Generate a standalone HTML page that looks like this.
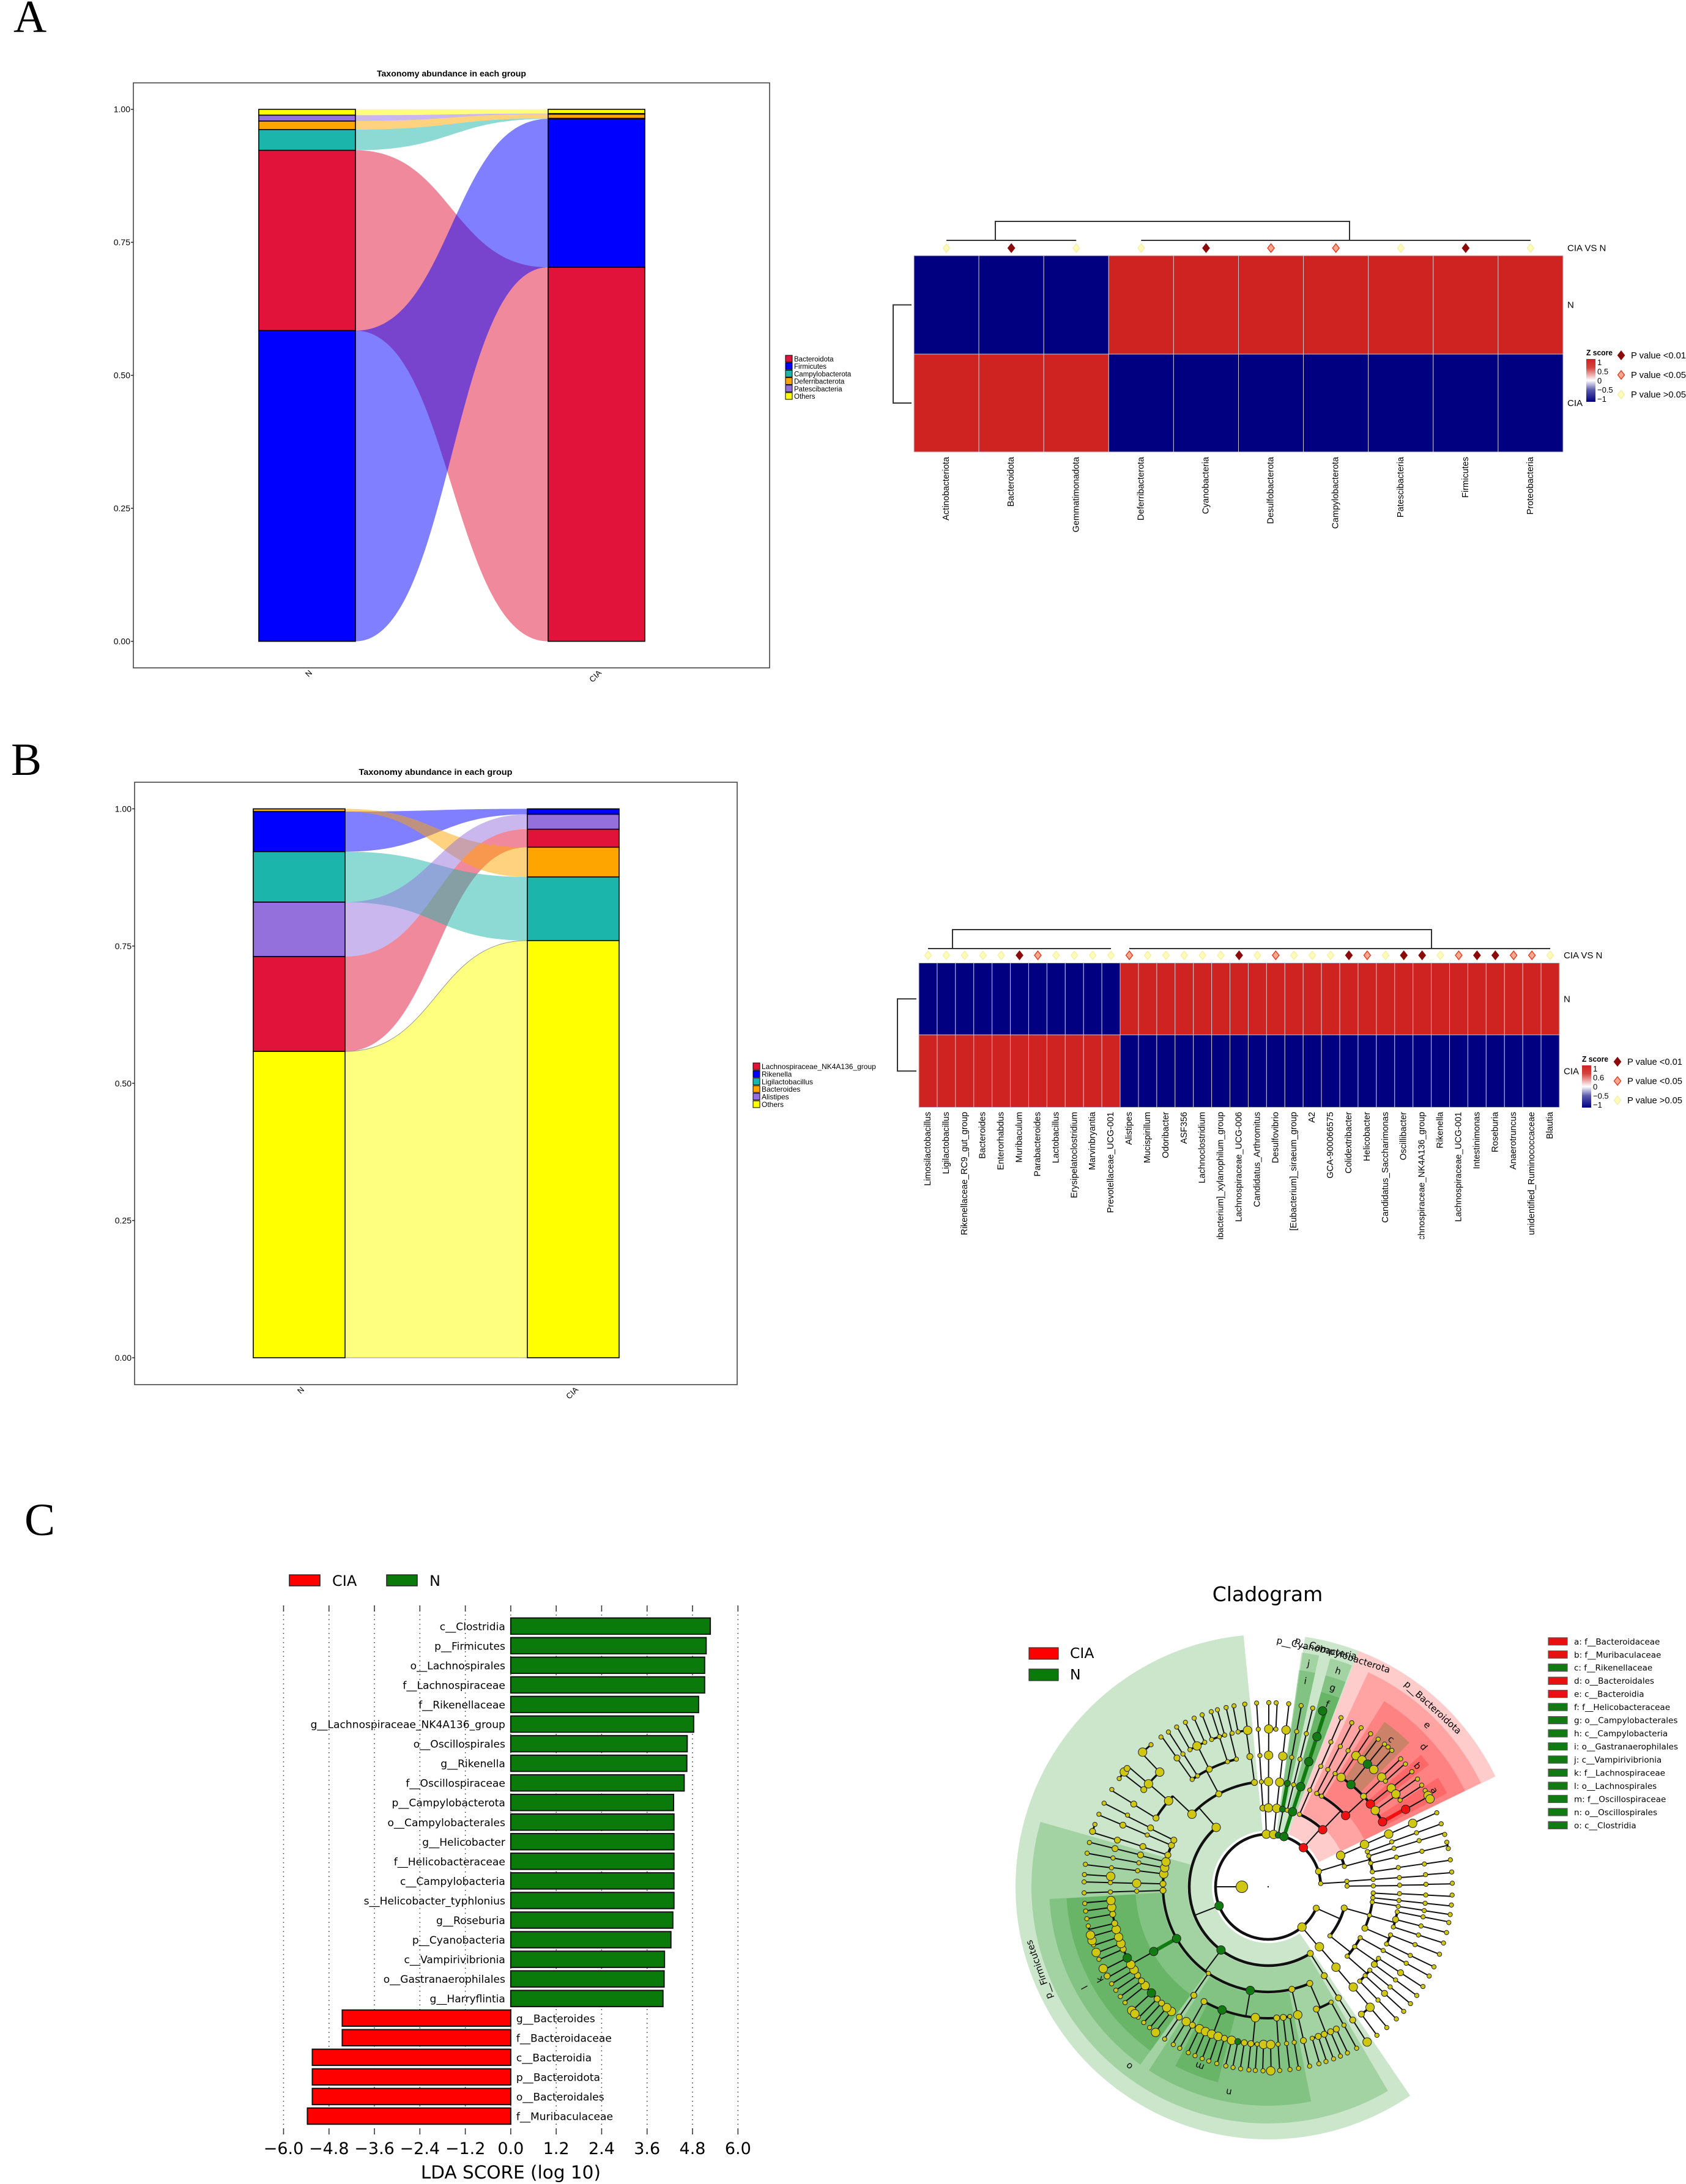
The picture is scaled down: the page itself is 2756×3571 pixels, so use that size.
<!DOCTYPE html>
<html lang="en">
<head>
<meta charset="utf-8">
<title>Microbiome composition figure</title>
<style>
html,body{margin:0;padding:0;background:#fff}
svg{display:block}
text{font-family:"Liberation Sans",sans-serif;fill:#000}
.dv text,text.dv{font-family:"DejaVu Sans",sans-serif}
.serif{font-family:"Liberation Serif",serif}
</style>
</head>
<body>
<svg id="fig" xmlns="http://www.w3.org/2000/svg" width="2756" height="3571" viewBox="0 0 2756 3571">
<rect width="2756" height="3571" fill="#fff"/>
<text class="serif" x="22" y="52" font-size="75">A</text>
<text class="serif" x="18" y="1267" font-size="75">B</text>
<text class="serif" x="40" y="2510" font-size="75">C</text>
<g id="alluvialA"></g>
<g id="heatA"></g>
<g id="alluvialB"></g>
<g id="heatB"></g>
<g id="lda" class="dv"></g>
<g id="clado" class="dv"></g>
</svg>
<script>
/* ---------- chart data ---------- */
const groupNames = ['N', 'CIA'];
const yTickValues = [0, 0.25, 0.5, 0.75, 1];
const yTickLabels = ['0.00', '0.25', '0.50', '0.75', '1.00'];

const phylumTaxa = ['Bacteroidota', 'Firmicutes', 'Campylobacterota', 'Deferribacterota', 'Patescibacteria', 'Others'];
const phylumN = [0.339, 0.584, 0.039, 0.016, 0.011, 0.011];
const phylumCIA = [0.703, 0.279, 0.001, 0.008, 0.001, 0.008];
const phylumStackN = [1, 0, 2, 3, 4, 5];
const phylumStackCIA = [0, 1, 2, 3, 4, 5];

const genusTaxa = ['Lachnospiraceae_NK4A136_group', 'Rikenella', 'Ligilactobacillus', 'Bacteroides', 'Alistipes', 'Others'];
const genusN = [0.173, 0.073, 0.092, 0.005, 0.099, 0.558];
const genusCIA = [0.033, 0.010, 0.116, 0.054, 0.027, 0.760];
const genusStackN = [5, 0, 4, 2, 1, 3];
const genusStackCIA = [5, 2, 3, 0, 4, 1];

const heatAColumns = ['Actinobacteriota', 'Bacteroidota', 'Gemmatimonadota', 'Deferribacterota', 'Cyanobacteria', 'Desulfobacterota', 'Campylobacterota', 'Patescibacteria', 'Firmicutes', 'Proteobacteria'];
const heatARowN = [-1, -1, -1, 1, 1, 1, 1, 1, 1, 1];
const heatARowCIA = [1, 1, 1, -1, -1, -1, -1, -1, -1, -1];
const heatAPClass = [2, 0, 2, 2, 0, 1, 1, 2, 0, 2];

const heatBColumns = ['Limosilactobacillus', 'Ligilactobacillus', 'Rikenellaceae_RC9_gut_group', 'Bacteroides', 'Enterorhabdus', 'Muribaculum', 'Parabacteroides', 'Lactobacillus', 'Erysipelatoclostridium', 'Marvinbryantia', 'Prevotellaceae_UCG-001', 'Alistipes', 'Mucispirillum', 'Odoribacter', 'ASF356', 'Lachnoclostridium', '[Eubacterium]_xylanophilum_group', 'Lachnospiraceae_UCG-006', 'Candidatus_Arthromitus', 'Desulfovibrio', '[Eubacterium]_siraeum_group', 'A2', 'GCA-900066575', 'Colidextribacter', 'Helicobacter', 'Candidatus_Saccharimonas', 'Oscillibacter', 'Lachnospiraceae_NK4A136_group', 'Rikenella', 'Lachnospiraceae_UCG-001', 'Intestinimonas', 'Roseburia', 'Anaerotruncus', 'unidentified_Ruminococcaceae', 'Blautia'];
const heatBRowN = [-1, -1, -1, -1, -1, -1, -1, -1, -1, -1, -1, 1, 1, 1, 1, 1, 1, 1, 1, 1, 1, 1, 1, 1, 1, 1, 1, 1, 1, 1, 1, 1, 1, 1, 1];
const heatBRowCIA = [1, 1, 1, 1, 1, 1, 1, 1, 1, 1, 1, -1, -1, -1, -1, -1, -1, -1, -1, -1, -1, -1, -1, -1, -1, -1, -1, -1, -1, -1, -1, -1, -1, -1, -1];
const heatBPClass = [2, 2, 2, 2, 2, 0, 1, 2, 2, 2, 2, 1, 2, 2, 2, 2, 2, 0, 2, 1, 2, 2, 2, 0, 1, 2, 0, 0, 2, 1, 0, 0, 1, 1, 2];

const pLegendLabels = ['P value <0.01', 'P value <0.05', 'P value >0.05'];

const ldaLabels = ['c__Clostridia', 'p__Firmicutes', 'o__Lachnospirales', 'f__Lachnospiraceae', 'f__Rikenellaceae', 'g__Lachnospiraceae_NK4A136_group', 'o__Oscillospirales', 'g__Rikenella', 'f__Oscillospiraceae', 'p__Campylobacterota', 'o__Campylobacterales', 'g__Helicobacter', 'f__Helicobacteraceae', 'c__Campylobacteria', 's__Helicobacter_typhlonius', 'g__Roseburia', 'p__Cyanobacteria', 'c__Vampirivibrionia', 'o__Gastranaerophilales', 'g__Harryflintia', 'g__Bacteroides', 'f__Bacteroidaceae', 'c__Bacteroidia', 'p__Bacteroidota', 'o__Bacteroidales', 'f__Muribaculaceae'];
const ldaValues = [5.27, 5.16, 5.12, 5.12, 4.96, 4.83, 4.66, 4.65, 4.58, 4.30, 4.31, 4.31, 4.31, 4.31, 4.31, 4.28, 4.23, 4.06, 4.05, 4.02, -4.45, -4.45, -5.24, -5.24, -5.24, -5.37];
const ldaTicks = [-6, -4.8, -3.6, -2.4, -1.2, 0, 1.2, 2.4, 3.6, 4.8, 6];

const cladoLegendEntries = ['a: f__Bacteroidaceae', 'b: f__Muribaculaceae', 'c: f__Rikenellaceae', 'd: o__Bacteroidales', 'e: c__Bacteroidia', 'f: f__Helicobacteraceae', 'g: o__Campylobacterales', 'h: c__Campylobacteria', 'i: o__Gastranaerophilales', 'j: c__Vampirivibrionia', 'k: f__Lachnospiraceae', 'l: o__Lachnospirales', 'm: f__Oscillospiraceae', 'n: o__Oscillospirales', 'o: c__Clostridia'];
const cladoLegendClass = [2, 2, 1, 2, 2, 1, 1, 1, 1, 1, 1, 1, 1, 1, 1];

/* highlighted clades: [label, taxonomic level, start bearing, end bearing, class (1 N, 2 CIA)] */
const cladeBands = [
  ['p__Firmicutes', 1, 145.8, 354.4, 1],
  ['o', 2, 149.6, 285.9, 1],
  ['l', 3, 215.7, 266.8, 1],
  ['k', 4, 215.6, 266.7, 1],
  ['n', 3, 168.7, 213, 1],
  ['m', 4, 194.4, 207.4, 1],
  ['p__Cyanobacteria', 1, 8.4, 14.6, 1],
  ['j', 2, 8.1, 12.4, 1],
  ['i', 3, 8.1, 12.4, 1],
  ['p__Campylobacterota', 1, 14.6, 21, 1],
  ['h', 2, 15.2, 20.7, 1],
  ['g', 3, 15.2, 20.7, 1],
  ['f', 4, 15.2, 20.7, 1],
  ['p__Bacteroidota', 1, 21, 64.1, 2],
  ['e', 2, 25, 64, 2],
  ['d', 3, 32, 64, 2],
  ['c', 4, 35.2, 44.4, 1],
  ['b', 4, 49.2, 52.8, 2],
  ['a', 4, 57.3, 62.4, 2]
];

/* depth-first tree rows: [level, bearing in degrees, abundance class, enrichment class (0 none, 1 N, 2 CIA)] */
const cladeRows = [
  [0,270,4,0],
  [1,114,2,0],
    [2,105.6,2,0],
      [3,93.4,1,0],[4,93,1,0],[5,93,1,0],[6,92.6,1,0],
      [3,96,1,0],[4,96,1,0],[5,96,1,0],[6,95.7,1,0],
      [3,98.4,1,0],[4,98.6,1,0],[5,98.7,1,0],[6,98.7,1,0],
      [3,105.8,1,0],[4,101,1,0],[5,101,1,0],[6,101.2,1,0],[4,104.4,2,0],[5,104.4,1,0],[6,104.4,1,0],[4,107.8,1,0],[5,107.8,1,0],[6,107.8,1,0],
      [3,113.2,2,0],[4,111.5,1,0],[5,111.5,1,0],[6,111.5,1,0],[4,115.8,1,0],[5,115.8,1,0],[6,115.8,1,0],
    [2,128.5,1,0],
      [3,119,1,0],[4,119,1,0],[5,119,1,0],[6,119,1,0],
      [3,124.7,1,0],[4,123,1,0],[5,123,2,0],[6,122.8,1,0],[4,126.2,2,0],[5,126.2,1,0],[6,126.2,1,0],
      [3,131.3,1,0],[4,129.4,1,0],[5,129.4,1,0],[6,129.4,1,0],[4,132.5,1,0],[5,132.5,2,0],[6,132.6,1,0],[4,135.9,1,0],[5,135.9,1,0],[6,135.9,1,0],
  [1,140,3,0],
    [2,139.5,3,0],[3,139.9,3,0],[4,139.7,3,0],[5,139.8,3,0],[6,139.9,1,0],[5,143.8,2,0],[6,143.8,1,0],
  [1,248.8,3,1],
    [2,147.7,2,0],[3,147.8,2,0],[4,147.7,2,0],[5,147.6,2,0],[6,147.5,3,0],
    [2,216.7,3,1],
      [3,156.7,2,0],
        [4,158.5,2,0],
          [5,163.8,1,0],[6,164,1,0],[5,161.5,2,0],[6,161.7,1,0],[5,159.2,2,0],[6,159.2,1,0],[5,156.7,2,0],[6,156.9,1,0],[5,154.4,2,0],[6,154.5,1,0],
        [4,151.4,1,0],[5,151.3,1,0],[6,151.3,1,0],
      [3,167,2,0],[4,167,3,0],[5,167.1,2,0],[6,167,1,0],
      [3,189.8,3,1],
        [4,170.5,1,0],[5,170.5,1,0],[6,170.5,1,0],
        [4,173.4,2,0],[5,173.3,1,0],[6,173.2,1,0],
        [4,176.3,2,0],[5,176.4,1,0],[6,176.4,1,0],
        [4,185.6,3,0],
          [5,193.4,3,0],[6,193.3,1,0],[5,191.1,2,1],[6,191,1,0],[5,188.7,2,0],[6,188.6,1,0],[5,186.3,2,0],[6,186,1,0],[5,184,1,0],[6,184,1,0],[5,181.7,3,0],[6,181.6,1,0],[5,179.1,3,0],[6,179.2,3,0],
        [4,200.5,3,1],
          [5,208.7,2,0],[6,208.7,1,0],[5,205.8,3,0],[6,205.7,1,0],[5,203.4,3,0],[6,203.4,1,0],[5,201,3,0],[6,201,1,0],[5,198.5,3,0],[6,198.8,1,0],[5,196.1,2,0],[6,196.2,1,0],
        [4,209.2,2,0],[5,211.3,3,0],[6,211,1,0],
      [3,214.6,1,0],[4,214.4,2,0],[5,214.3,2,0],[6,214.2,1,0],
      [3,240.5,3,1],[4,240.5,3,1],
        [5,217.8,3,0],[6,217.7,3,0],[5,220,3,0],[6,220.1,1,0],[5,222.5,2,0],[6,222.5,1,0],[5,224.7,2,0],[6,224.9,1,0],
        [5,227.7,3,1],[6,227.8,3,0],[6,226.4,3,0],
        [5,231.2,3,0],[6,231,1,0],[5,233.4,2,0],[6,233.4,1,0],[5,235.8,2,0],[6,235.8,1,0],[5,238.2,3,0],[6,238.2,1,0],[5,240.5,3,0],[6,241,2,0],
        [5,243.2,3,1],[6,243.6,3,0],[5,246.7,2,0],[6,246.8,1,0],[5,248.9,3,0],[6,249.1,3,0],[5,251.4,3,0],[6,251.6,1,0],
        [5,254.3,3,0],[6,253,3,0],[6,254.8,3,0],[5,256.6,2,0],[6,257.7,1,0],[5,260,2,0],[6,260,1,0],[5,262.5,3,0],[6,262.4,1,0],[5,265,3,0],[6,264.8,1,0],
      [3,268,2,0],[4,268.1,1,0],[5,268.1,1,0],[6,268.1,1,0],
      [3,271.6,2,0],[4,271.5,3,0],[5,271.5,1,0],[6,271.5,1,0],[5,273.8,3,0],[6,273.8,1,0],
      [3,277,3,0],[4,277,1,0],[5,276.9,1,0],[6,277,1,0],
      [3,280.4,3,0],[4,280.5,1,0],[5,280.5,1,0],[6,280.5,1,0],
      [3,283.7,3,0],[4,284,2,0],[5,284,2,0],[6,283.9,1,0],
      [3,287.6,2,0],[4,287.8,2,0],[5,287.2,2,0],[6,287.5,2,0],[6,289.8,1,0],
      [3,293.2,2,0],[4,293.2,1,0],[5,293,2,0],[6,293.2,1,0],
      [3,296.3,2,0],[4,296.6,2,0],[5,297,1,0],[6,297,1,0],
    [2,318.8,3,0],
      [3,313.6,3,0],
        [4,301.5,2,0],[5,301.6,2,0],[6,301.9,1,0],
        [4,310.8,3,0],
          [5,308,2,0],[6,306,1,0],[6,308.6,3,0],
          [5,310.7,3,0],[6,310,2,0],
          [5,316.6,3,0],[6,317,3,0],[6,320.5,1,0],
      [3,332,2,0],
        [4,324.7,1,0],[5,324.7,2,0],[6,324.4,1,0],
        [4,327.5,1,0],[5,327.3,1,0],[6,327.2,1,0],
        [4,333.4,2,0],[5,330.3,1,0],[6,330.2,1,0],[5,333.2,3,0],[6,333.3,1,0],[5,336.3,1,0],[6,336.3,1,0],
        [4,342,1,0],[5,339,1,0],[6,339,1,0],[5,342,1,0],[6,342,1,0],[5,344,1,0],[6,344,1,0],
        [4,346,1,0],[5,346.8,1,0],[6,346.8,1,0],
      [3,352.5,2,0],[4,352,2,0],[5,349,1,0],[6,349.3,1,0],[5,352.5,3,0],[6,352.7,1,0],
  [1,358,3,0],
    [2,356.2,2,0],[3,356.3,1,0],[4,356.4,1,0],[5,356.4,1,0],[6,356.4,1,0],
  [1,366,3,0],
    [2,0.2,3,0],[3,0.2,3,0],[4,0.2,3,0],[5,0.2,3,0],[6,0.2,1,0],[5,2.8,1,0],[6,2.5,1,0],
    [2,6.2,3,0],[3,6.3,3,0],[4,6.4,3,0],[5,6.5,3,0],[6,6.4,1,0],
  [1,371,2,1],
    [2,10.5,2,1],[3,10.5,2,1],[4,10.3,1,0],[5,10.4,1,0],[6,10.3,1,0],
    [2,14,1,0],[3,14,1,0],[4,14,1,0],[5,14,1,0],[6,14,1,0],
  [1,377.5,3,1],
    [2,18,3,1],[3,18,3,1],[4,18,3,1],[5,18,3,1],[6,17.2,3,1],
  [1,402,3,2],
    [2,23.4,1,0],[3,23.3,1,0],[4,23.6,1,0],[5,23.4,1,0],[6,23.3,1,0],
    [2,43.7,3,2],
      [3,27.5,1,0],[4,27,1,0],[5,27.2,1,0],[6,27,1,0],
      [3,30.5,1,0],[4,30.6,1,0],[5,30.4,1,0],[6,30.3,1,0],
      [3,47.4,3,2],
        [4,33.7,3,0],[5,33.8,3,0],[6,33.8,1,0],
        [4,39,3,1],[5,36.5,3,0],[6,36.7,1,0],[5,39,3,1],[6,39.2,1,0],[6,40.6,1,0],[5,42,3,0],[6,42.2,1,0],
        [4,46.5,2,0],[5,46,3,0],[6,46,1,0],[5,48,1,0],[6,48.2,1,0],
        [4,51,3,2],[5,51.3,3,0],[6,51.3,1,0],
        [4,54.5,3,0],[5,54,3,0],[6,54.2,1,0],[5,56.7,1,0],[6,56.5,1,0],
        [4,60.4,3,2],[5,60.6,3,2],[6,58.5,1,0],[6,60.3,3,0],[6,61.5,3,0],
  [1,433,2,0],
    [2,66.6,3,0],[3,66.3,3,0],[4,66.4,3,0],[5,66.3,3,0],[6,66.3,1,0],
    [2,75,1,0],
      [3,70.5,1,0],[4,70,1,0],[5,70,1,0],[6,70,1,0],
      [3,73,1,0],[4,73,1,0],[5,73,1,0],[6,73.5,1,0],
      [3,77,1,0],[4,77,1,0],[5,77,1,0],[6,76,1,0],[6,78,1,0],
      [3,81.8,1,0],[4,81.6,1,0],[5,81.7,1,0],[6,81.6,1,0],
  [1,446.5,1,0],
    [2,86,1,0],[3,86,1,0],[4,86,1,0],[5,85.6,1,0],[6,85.4,1,0],
    [2,89.5,1,0],[3,89.5,1,0],[4,89.3,1,0],[5,89.1,1,0],[6,88.9,1,0]
];

/* ---------- helpers ---------- */
const NS = 'http://www.w3.org/2000/svg';
function mk(tag, attrs, parent, txt) {
  const e = document.createElementNS(NS, tag);
  for (const k in attrs) e.setAttribute(k, attrs[k]);
  if (txt !== undefined) e.textContent = txt;
  parent.appendChild(e);
  return e;
}
const taxonPalette = ['#E2133A', '#0000FF', '#1CB5AC', '#FFA500', '#9370DB', '#FFFF00'];
const genusPalette = ['#E2133A', '#0000FF', '#1CB5AC', '#FFA500', '#9370DB', '#FFFF00'];

/* ---------- alluvial ---------- */
function drawAlluvial(g, o) {
  const y = v => o.y0 + (o.y1 - o.y0) * v;
  let el;
  el = mk('rect', {x: o.fx0, y: o.fy0, width: o.fx1 - o.fx0, height: o.fy1 - o.fy0, fill: 'none', stroke: '#444', 'stroke-width': 1.6}, g);
  
  
  el = mk('text', {x: o.titleX, y: o.titleY, 'font-size': 14, 'font-weight': 'bold', 'text-anchor': 'middle', textLength: o.titleW, lengthAdjust: 'spacingAndGlyphs'}, g, 'Taxonomy abundance in each group');
  
  
  yTickValues.forEach((v, i) => {
    const t = mk('line', {x1: o.fx0 - 4, x2: o.fx0, y1: y(v), y2: y(v), stroke: '#222', 'stroke-width': 1.4}, g);
    
    
    const l = mk('text', {x: o.fx0 - 5, y: y(v) + 5, 'font-size': 14, 'text-anchor': 'end', fill: '#222'}, g, yTickLabels[i]);
    
    
  });
  const stack = (vals, order) => {
    const out = [];
    let c = 0;
    order.forEach(i => { out[i] = [c, c + vals[i]]; c += vals[i]; });
    return out;
  };
  const a = stack(o.n, o.orderN), b = stack(o.cia, o.orderCIA);
  const x0 = o.n0 + o.w, x1 = o.c0, mx = (x0 + x1) / 2;
  o.taxa.forEach((name, i) => {
    const d = `M${x0} ${y(a[i][0])}C${mx} ${y(a[i][0])} ${mx} ${y(b[i][0])} ${x1} ${y(b[i][0])}L${x1} ${y(b[i][1])}C${mx} ${y(b[i][1])} ${mx} ${y(a[i][1])} ${x0} ${y(a[i][1])}Z`;
    const f = mk('path', {d, fill: o.palette[i], 'fill-opacity': 0.5}, g);
    if (o.edgedFlow === name) { f.setAttribute('stroke', '#9a9a8a'); f.setAttribute('stroke-width', 1); }
    
    
  });
  [[o.n0, a], [o.c0, b]].forEach(([bx, s]) => {
    o.taxa.forEach((name, i) => {
      const r = mk('rect', {x: bx, y: y(s[i][1]), width: o.w, height: y(s[i][0]) - y(s[i][1]), fill: o.palette[i], stroke: '#000', 'stroke-width': 1.6}, g);
      
      
    });
  });
  groupNames.forEach((name, i) => {
    const cx = (i ? o.c0 : o.n0) + o.w / 2 + 3;
    const l = mk('text', {x: cx + 6, y: o.fy1 + 9, 'font-size': 13, fill: '#333', 'text-anchor': 'end', transform: `rotate(-45 ${cx + 6} ${o.fy1 + 9})`}, g, name);
    
    
  });
  o.legendOrder.forEach((name, i) => {
    const yy = o.ly + i * o.lstep;
    const r = mk('rect', {x: o.lx, y: yy - 6, width: 11, height: 11, fill: taxonPalette[i], stroke: '#000', 'stroke-width': 1}, g);
    
    
    const l = mk('text', {x: o.lx + 14, y: yy + 4, 'font-size': o.lfont, fill: '#111'}, g, name);
    
    
  });
}
drawAlluvial(document.getElementById('alluvialA'), {
  taxa: phylumTaxa, legendOrder: phylumTaxa, palette: taxonPalette, n: phylumN, cia: phylumCIA, orderN: phylumStackN, orderCIA: phylumStackCIA,
  fx0: 218, fx1: 1258, fy0: 135.5, fy1: 1092, y0: 1048.6, y1: 178.7, n0: 423, c0: 896, w: 158,
  titleX: 738, titleY: 125, titleW: 244, lx: 1284, ly: 587, lstep: 12.2, lfont: 11.5
});
drawAlluvial(document.getElementById('alluvialB'), {
  taxa: genusTaxa, legendOrder: genusTaxa, palette: genusPalette, n: genusN, cia: genusCIA, orderN: genusStackN, orderCIA: genusStackCIA,
  fx0: 220, fx1: 1205, fy0: 1279, fy1: 2264, y0: 2220, y1: 1322.5, n0: 414, c0: 862, w: 150,
  titleX: 712, titleY: 1267, titleW: 251, lx: 1231, ly: 1744, lstep: 12.4, lfont: 12, edgedFlow: 'Others'
});

/* ---------- heatmaps ---------- */
function zColor(v) { return v > 0 ? '#CF2321' : '#000080'; }
function diamond(g, cx, cy, cls, name) {
  const w = 5.5, h = 7;
  const fills = ['#8B0A0A', '#F7A88E', '#FFFBB8'];
  const strokes = ['#8B0A0A', '#E8381F', '#F4EFA6'];
  const d = mk('polygon', {points: `${cx},${cy - h} ${cx + w},${cy} ${cx},${cy + h} ${cx - w},${cy}`, fill: fills[cls], stroke: strokes[cls], 'stroke-width': 1.4}, g);
  
  
}
function drawHeat(g, o) {
  const cols = o.columns.length;
  const cw = (o.x1 - o.x0) / cols;
  const cx = i => o.x0 + cw * (i + 0.5);
  const rowsY = [o.y0, o.ym];
  const rowsH = [o.ym - o.y0, o.y1 - o.ym];
  [o.rowN, o.rowCIA].forEach((row, r) => {
    row.forEach((v, i) => {
      const c = mk('rect', {x: o.x0 + cw * i, y: rowsY[r], width: cw, height: rowsH[r], fill: zColor(v), stroke: '#c9c4cc', 'stroke-width': 1}, g);
      
      
    });
  });
  o.columns.forEach((name, i) => {
    const clipped = o.clipLabels ? {'clip-path': 'url(#' + o.clipLabels + ')'} : {};
    const wrap = mk('g', clipped, g);
    
    
    const l = mk('text', {x: 0, y: 0, 'font-size': 14.5, 'text-anchor': 'end', 'dominant-baseline': 'central', fill: '#111', transform: `translate(${cx(i)} ${o.labelY}) rotate(-90)`}, wrap, name);
    
    
    diamond(g, cx(i), o.diamondY, o.pClass[i], 'significance-marker');
  });
  /* dendrograms */
  const a0 = cx(0), a1 = cx(o.split - 1), b0 = cx(o.split), b1 = cx(cols - 1);
  const dk = {fill: 'none', stroke: '#333', 'stroke-width': 2};
  const d1 = mk('path', Object.assign({d: `M${a0} ${o.dSub}H${a1}M${b0} ${o.dSub}H${b1}M${o.dL} ${o.dSub}V${o.dTop}H${o.dR}V${o.dSub}`}, dk), g);
  
  
  const d2 = mk('path', Object.assign({d: `M${o.x0 - 4} ${(o.y0 + o.ym) / 2}H${o.rdx}V${(o.ym + o.y1) / 2}H${o.x0 - 4}`}, dk), g);
  
  
  const tx = o.x1 + 7;
  let t = mk('text', {x: tx, y: o.diamondY + 5, 'font-size': 15, fill: '#111'}, g, 'CIA VS N');
  
  
  t = mk('text', {x: tx, y: (o.y0 + o.ym) / 2 + 5, 'font-size': 15, fill: '#111'}, g, 'N');
  
  
  t = mk('text', {x: tx, y: (o.ym + o.y1) / 2 + 5, 'font-size': 15, fill: '#111'}, g, 'CIA');
  
  
  /* legend */
  t = mk('text', {x: o.cbx, y: o.cby - 6, 'font-size': 13, 'font-weight': 'bold', fill: '#111', textLength: 43, lengthAdjust: 'spacingAndGlyphs'}, g, 'Z score');
  
  
  const bar = mk('rect', {x: o.cbx, y: o.cby, width: 15, height: o.cbh, fill: 'url(#zgrad)'}, g);
  
  
  o.cbLabels.forEach((lab, i) => {
    const yy = o.cby + o.cbh * (0.07 + 0.215 * i);
    const q = mk('text', {x: o.cbx + 18, y: yy + 5, 'font-size': 13, fill: '#111'}, g, lab);
    
    
  });
  pLegendLabels.forEach((lab, i) => {
    const yy = o.py + i * o.pstep;
    diamond(g, o.px, yy, i, 'p-value-legend-marker');
    const q = mk('text', {x: o.px + 16, y: yy + 5, 'font-size': 14.7, fill: '#111'}, g, lab);
    
    
  });
}
const colorbarTicks = ['1', '0.5', '0', '\u22120.5', '\u22121'];
const fig = document.getElementById('fig');
const defs = mk('defs', {}, fig);


const grad = mk('linearGradient', {id: 'zgrad', x1: 0, y1: 0, x2: 0, y2: 1}, defs);


[['0', '#CF2321'], ['0.2', '#D6433F'], ['0.5', '#FFFFFF'], ['0.72', '#5B5BAE'], ['1', '#000080']].forEach(s => {
  const st = mk('stop', {offset: s[0], 'stop-color': s[1]}, grad);
  
  
});
const clip = mk('clipPath', {id: 'labelClipB'}, defs);


const clipRect = mk('rect', {x: 1480, y: 1812, width: 1100, height: 214}, clip);



drawHeat(document.getElementById('heatA'), {
  columns: heatAColumns, rowN: heatARowN, rowCIA: heatARowCIA, pClass: heatAPClass, split: 3,
  x0: 1494, x1: 2555, y0: 418, ym: 579, y1: 739, labelY: 747, diamondY: 405.6,
  dTop: 362, dSub: 393, dL: 1627, dR: 2206, rdx: 1460,
  cbx: 2593, cby: 587, cbh: 70, cbLabels: colorbarTicks, px: 2650, py: 581, pstep: 32
});
drawHeat(document.getElementById('heatB'), {
  columns: heatBColumns, rowN: heatBRowN, rowCIA: heatBRowCIA, pClass: heatBPClass, split: 11,
  x0: 1502, x1: 2549, y0: 1574.5, ym: 1692, y1: 1810.6, labelY: 1818, diamondY: 1562,
  dTop: 1520, dSub: 1551, dL: 1557, dR: 2340, rdx: 1467, clipLabels: 'labelClipB',
  cbx: 2586, cby: 1742, cbh: 69, cbLabels: ['1', '0.6', '0', '\u22120.5', '\u22121'], px: 2644, py: 1736, pstep: 31.5
});

/* ---------- LDA bars ---------- */
(function () {
  const g = document.getElementById('lda');
  const x0 = 834.9, unit = 61.9;
  const xs = v => x0 + v * unit;
  const top = 2645.5, step = 32.05, bh = 26.5;
  ldaTicks.forEach(v => {
    const gl = mk('line', {x1: xs(v), x2: xs(v), y1: 2625, y2: 3490, stroke: '#333', 'stroke-width': 1.5, 'stroke-dasharray': '1.5 6'}, g);
    
    
    const t1 = mk('line', {x1: xs(v), x2: xs(v), y1: 2625, y2: 2635, stroke: '#333', 'stroke-width': 1.5}, g);
    
    
    const t2 = mk('line', {x1: xs(v), x2: xs(v), y1: 3480, y2: 3490, stroke: '#333', 'stroke-width': 1.5}, g);
    
    
    const lab = (v < 0 ? '\u2212' : '') + Math.abs(v).toFixed(1);
    const tl = mk('text', {x: xs(v), y: 3522, 'font-size': 27, 'text-anchor': 'middle'}, g, lab);
    
    
  });
  ldaValues.forEach((v, i) => {
    const yy = top + i * step;
    const left = Math.min(xs(0), xs(v));
    const r = mk('rect', {x: left, y: yy, width: Math.abs(xs(v) - xs(0)), height: bh, fill: v > 0 ? '#0A7A0A' : '#FF0000', stroke: '#111', 'stroke-width': 2}, g);
    
    
    const t = mk('text', {x: v > 0 ? xs(0) - 9 : xs(0) + 9, y: yy + bh / 2 + 6.5, 'font-size': 17.1, 'text-anchor': v > 0 ? 'end' : 'start'}, g, ldaLabels[i]);
    
    
  });
  const ax = mk('text', {x: xs(0), y: 3562, 'font-size': 29.5, 'text-anchor': 'middle'}, g, 'LDA SCORE (log 10)');
  
  
  [[473, 'CIA', '#FF0000'], [632, 'N', '#0A7A0A']].forEach(e => {
    const r = mk('rect', {x: e[0], y: 2575, width: 50, height: 18, fill: e[2], stroke: '#222', 'stroke-width': 1.5}, g);
    
    
    const t = mk('text', {x: e[0] + 70, y: 2593, 'font-size': 24}, g, e[1]);
    
    
  });
})();

/* ---------- cladogram ---------- */
(function () {
  const g = document.getElementById('clado');
  const cx = 2073, cy = 3085;
  const ringR = [43, 86, 129, 172, 215, 258, 301];
  const bandInner = [0, 92, 132, 175, 217];
  const bandOuter = [0, 413, 387, 358, 330];
  const classColor = ['#CFC710', '#117A11', '#F01010'];
  const bandColor = ['', '#008000', '#FF0000'];
  const nodeR = [0, 3.6, 5, 7, 9.5];
  const pt = (r, a) => {
    const t = a * Math.PI / 180;
    return [cx + r * Math.sin(t), cy - r * Math.cos(t)];
  };
  const sector = (r0, r1, a0, a1) => {
    const p = pt(r0, a0), q = pt(r1, a0), s = pt(r1, a1), u = pt(r0, a1);
    const lg = a1 - a0 > 180 ? 1 : 0;
    return `M${p}L${q}A${r1} ${r1} 0 ${lg} 1 ${s}L${u}A${r0} ${r0} 0 ${lg} 0 ${p}Z`;
  };
  const arc = (r, a0, a1) => {
    const p = pt(r, a0), q = pt(r, a1);
    return `M${p}A${r} ${r} 0 ${a1 - a0 > 180 ? 1 : 0} 1 ${q}`;
  };
  cladeBands.forEach(b => {
    const s = mk('path', {d: sector(bandInner[b[1]], bandOuter[b[1]], b[2], b[3]), fill: bandColor[b[4]], 'fill-opacity': 0.2}, g);
    
    
  });
  /* rebuild tree from depth-first rows */
  const stack = [];
  const nodes = cladeRows.map(r => {
    const n = {lv: r[0], a: r[1], size: r[2], cls: r[3], kids: []};
    if (n.lv > 0) stack[n.lv - 1].kids.push(n);
    stack[n.lv] = n;
    return n;
  });
  const arcWidth = [4.5, 4.5, 4.2, 4, 3.4, 3, 2.4];
  nodes.forEach(n => {
    if (!n.kids.length) return;
    const mean = n.kids.reduce((s, k) => s + k.a, 0) / n.kids.length;
    let p = n.a;
    while (p - mean > 180) p -= 360;
    while (p - mean < -180) p += 360;
    const r0 = ringR[n.lv], r1 = ringR[n.lv + 1];
    const angles = n.kids.map(k => {
      let a = k.a;
      while (a - p > 180) a -= 360;
      while (a - p < -180) a += 360;
      return a;
    }).concat([p]);
    const lo = Math.min.apply(null, angles), hi = Math.max.apply(null, angles);
    const only = n.kids.length === 1 && n.cls && n.kids[0].cls;
    const a0 = pt(r0, p), a1 = pt(r1, p);
    const line = mk('line', {x1: a0[0], y1: a0[1], x2: a1[0], y2: a1[1], stroke: only ? classColor[n.cls] : '#111', 'stroke-width': only ? 6 : 2, 'stroke-linecap': 'round'}, g);
    
    
    if (hi - lo > 0.7) {
      const ar = mk('path', {d: arc(r1, lo, hi), fill: 'none', stroke: '#111', 'stroke-width': arcWidth[n.lv]}, g);
      
      
    }
  });
  nodes.forEach(n => {
    const p = pt(ringR[n.lv], n.a);
    const c = mk('circle', {cx: p[0], cy: p[1], r: nodeR[n.size], fill: classColor[n.cls], stroke: '#222', 'stroke-width': 1}, g);
    
    
  });
  const dot = mk('circle', {cx: cx, cy: cy, r: 1.2, fill: '#111'}, g);
  
  
  cladeBands.forEach(b => {
    const mid = (b[2] + b[3]) / 2;
    const isPhylum = b[1] === 1;
    const r = isPhylum ? 398 : bandOuter[b[1]] - 16;
    const p = pt(r, mid);
    const t = mk('text', {x: 0, y: 0, 'font-size': 15, 'text-anchor': 'middle', 'dominant-baseline': 'central', fill: '#111', transform: `translate(${p[0]} ${p[1]}) rotate(${mid})`}, g, b[0]);
    
    
  });
  const title = mk('text', {x: 2072, y: 2618, 'font-size': 33, 'text-anchor': 'middle'}, g, 'Cladogram');
  
  
  [[2694, 'CIA', '#FF0000'], [2729, 'N', '#0A7A0A']].forEach(e => {
    const r = mk('rect', {x: 1682, y: e[0], width: 48, height: 19, fill: e[2], stroke: '#333', 'stroke-width': 1.2}, g);
    
    
    const t = mk('text', {x: 1749, y: e[0] + 17, 'font-size': 23.5}, g, e[1]);
    
    
  });
  cladoLegendEntries.forEach((name, i) => {
    const yy = 2683.8 + i * 21.47;
    const r = mk('rect', {x: 2531, y: yy - 6, width: 31, height: 12, fill: cladoLegendClass[i] === 2 ? '#E81010' : '#117A11', stroke: '#555', 'stroke-width': 1.2}, g);
    
    
    const t = mk('text', {x: 2573, y: yy + 5, 'font-size': 13.5}, g, name);
    
    
  });
})();
</script>
</body>
</html>
